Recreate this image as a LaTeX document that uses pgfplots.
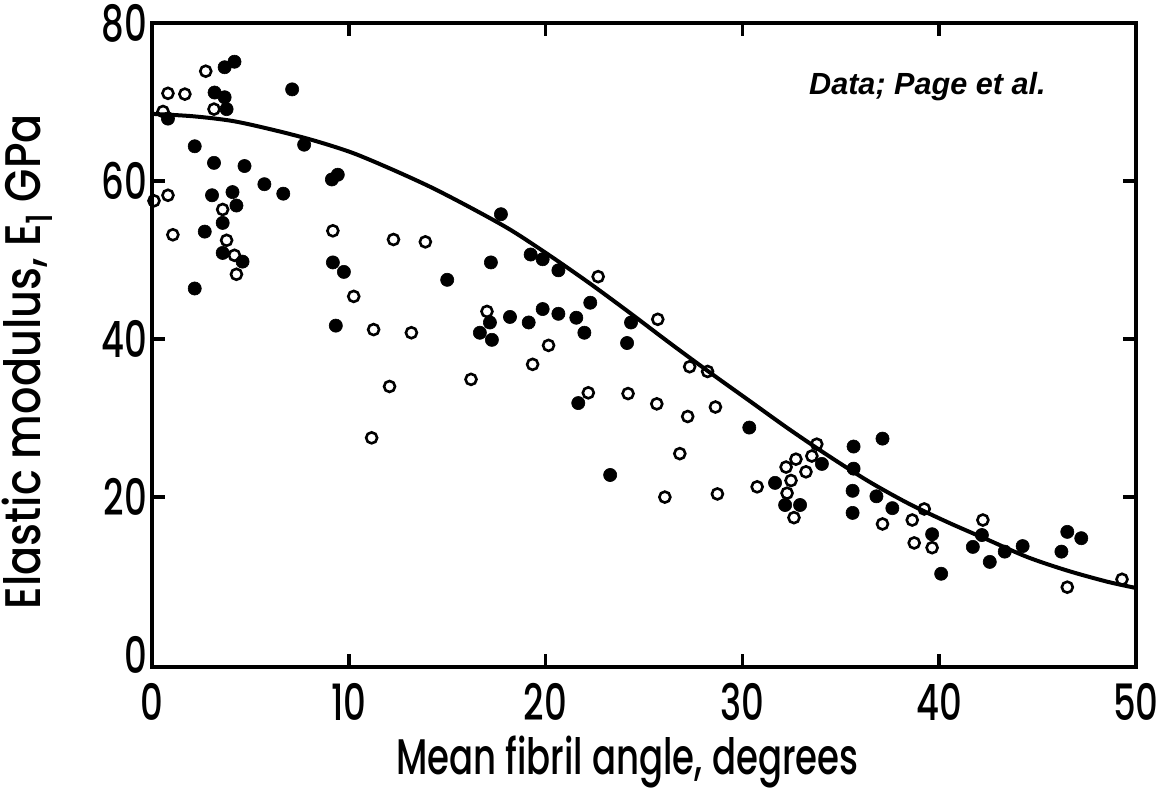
\documentclass[border=0pt]{standalone}
\usepackage{fontspec}
\setmainfont{Poppins Medium}[FakeStretch=0.71]
\newfontfamily\ylabfont{Poppins Medium}[FakeStretch=0.86]
\newfontfamily\datafont{Liberation Sans}
\usepackage{pgfplots}
\pgfplotsset{compat=1.18}

\pgfplotstableread{
x y
0.10 57.5
0.81 58.2
1.06 53.2
0.81 71.1
1.67 71.0
2.73 73.9
3.15 69.1
0.56 68.8
3.59 56.4
3.79 52.5
4.19 50.6
4.29 48.2
9.19 53.7
10.25 45.4
11.26 41.2
12.07 34.0
11.16 27.5
12.27 52.6
13.89 52.3
13.18 40.8
17.02 43.5
20.15 39.2
19.34 36.8
16.21 34.9
22.17 33.2
22.67 47.9
25.70 42.5
27.32 36.5
28.23 35.9
24.19 33.1
25.65 31.8
27.22 30.2
28.63 31.4
26.82 25.5
26.06 20.0
28.73 20.4
30.75 21.3
33.78 26.7
32.72 24.8
33.53 25.2
32.22 23.8
33.23 23.2
32.47 22.1
32.27 20.5
32.62 17.4
37.12 16.6
39.24 18.5
38.63 17.1
38.73 14.2
39.64 13.6
42.22 17.1
46.51 8.6
49.29 9.6
}\opendata

\pgfplotstableread{
x y
3.69 74.4
4.19 75.1
7.12 71.6
3.18 71.2
3.69 70.6
3.79 69.1
0.81 67.9
2.17 64.4
7.73 64.6
3.15 62.3
4.70 61.9
5.71 59.6
6.67 58.4
9.14 60.2
9.44 60.8
3.05 58.2
4.09 58.6
4.29 56.9
3.59 54.7
2.68 53.6
3.59 50.9
4.60 49.8
2.17 46.4
9.19 49.7
9.75 48.5
9.34 41.7
17.73 55.8
17.22 49.7
15.00 47.5
19.24 50.7
19.85 50.1
20.65 48.7
22.27 44.6
17.17 42.1
16.66 40.8
17.27 39.9
18.19 42.8
19.14 42.1
19.85 43.8
20.65 43.2
21.56 42.7
21.97 40.8
21.66 31.9
23.28 22.8
24.34 42.1
24.14 39.5
30.35 28.8
31.66 21.8
35.65 26.4
37.12 27.4
34.04 24.2
35.65 23.6
35.60 20.8
36.81 20.1
32.17 19.0
32.93 19.0
35.60 18.0
37.62 18.6
39.64 15.3
41.71 13.7
40.10 10.3
42.17 15.2
42.57 11.8
43.33 13.1
44.24 13.8
46.51 15.6
47.22 14.8
46.21 13.1
}\filleddata

\pgfplotstableread{
x y
0 68.5
2.07 68.2
4.09 67.6
6.11 66.5
8.13 65.2
10.15 63.6
12.17 61.5
14.19 59.2
16.21 56.6
18.23 53.8
20.25 50.5
22.27 47.0
24.29 43.3
26.31 39.5
28.33 35.8
30.35 32.2
32.37 28.6
34.39 25.2
36.41 22.0
38.43 19.2
40.45 16.8
42.47 14.6
44.49 12.4
46.51 10.7
48.53 9.3
50 8.5
}\curvedata

\begin{document}
\begin{tikzpicture}
\begin{axis}[
  scale only axis,
  width=492pt, height=322pt,
  xmin=0, xmax=50, ymin=-1.5, ymax=80,
  xtick={0,10,20,30,40,50},
  ytick={20,40,60,80},
  extra y ticks={0},
  extra y tick style={major tick length=0pt},
  xtick pos=both, ytick pos=both,
  xticklabel pos=bottom, yticklabel pos=left,
  tick align=inside,
  major tick length=6.5pt,
  tick style={line width=1.8pt, black},
  axis line style={line width=2.2pt, black},
  /pgf/number format/assume math mode=true,
  ticklabel style={font=\fontsize{25}{28}\selectfont},
  xticklabel style={yshift=-4.5pt},
  yticklabel style={xshift=1pt},
  every axis x label/.style={at={(axis description cs:0.483,-0.1475)}, anchor=center},
  every axis y label/.style={at={(axis description cs:-0.127,0.474)}, anchor=center, rotate=90},
  xlabel={\fontsize{25}{28}\selectfont Mean fibril angle, degrees},
  ylabel={\ylabfont\fontsize{25}{28}\selectfont Elastic modulus, E\raisebox{-0.45ex}{\fontsize{18}{20}\selectfont 1} GPa},
  clip=false,
]
\addplot[no marks, line width=2pt, black, smooth] table {\curvedata};
\addplot[only marks, mark=*, mark size=3.3pt, mark options={fill=black, draw=black, line width=0.3pt}] table {\filleddata};
\addplot[only marks, mark=o, mark size=2.75pt, mark options={draw=black, line width=1.3pt, fill=white}] table {\opendata};
\node[anchor=center, font=\datafont\bfseries\itshape\fontsize{15.3}{18}\selectfont] at (axis cs:39.4,72.0) {Data; Page et al.};
\path (axis description cs:-0.1545,-0.191) coordinate (bbsw);
\path (axis description cs:1.0244,1.0357) coordinate (bbne);
\end{axis}
\pgfresetboundingbox
\path[use as bounding box] (bbsw) rectangle (bbne);
\end{tikzpicture}
\end{document}
